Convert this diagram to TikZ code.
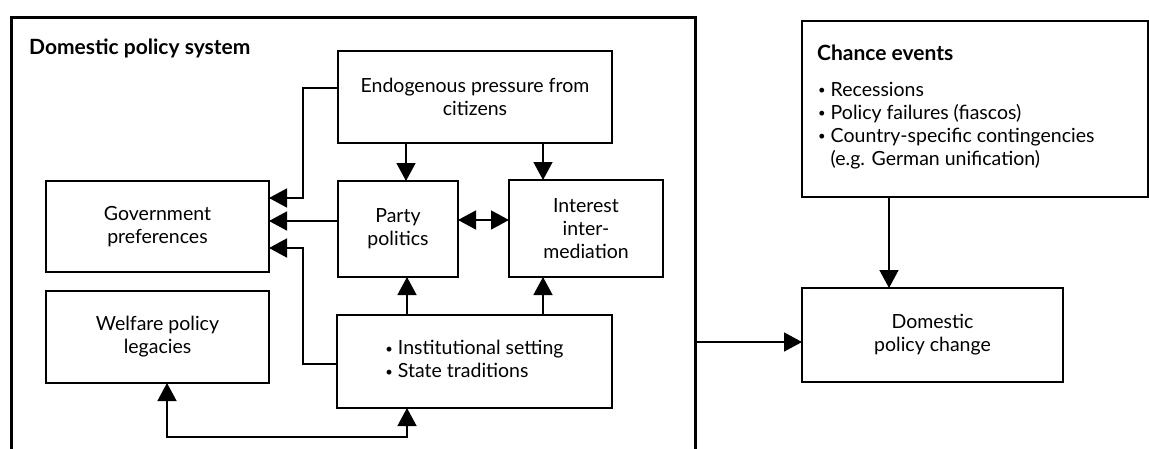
\documentclass[tikz,border=0pt]{standalone}
\usepackage{fontspec}
\setmainfont{Lato}
\usepackage{tikz}
\usetikzlibrary{arrows.meta,positioning}
\newcommand{\polfont}{\fontsize{19.5}{23}\selectfont}
\newcommand{\headfont}{\fontsize{21}{24}\selectfont\bfseries}
\newcommand{\polbullet}{\raisebox{1.5pt}{\fontsize{13}{13}\selectfont •}}
\tikzstyle{pol_box} = [rectangle, draw=black, line width=1.5pt, inner sep=0pt, outer sep=0pt, align=center, font=\polfont]
\tikzstyle{pol_frame} = [rectangle, draw=black, line width=3pt, inner sep=0pt, outer sep=0pt]
\tikzstyle{pol_head} = [inner sep=0pt, anchor=west, font=\headfont]
\tikzstyle{pol_arr} = [-{Triangle[length=18pt,width=19pt]}, line width=1.5pt]
\tikzstyle{pol_dbl} = [{Triangle[length=18pt,width=19pt]}-{Triangle[length=18pt,width=19pt]}, line width=1.5pt]

\begin{document}
\begin{tikzpicture}[x=1pt,y=-1pt]
\useasboundingbox (0,0) rectangle (1149,448);
\clip (0,0) rectangle (1149,448);
% the domestic policy system
\node [pol_frame, minimum width=684pt, minimum height=460pt] (system) at (353,247) {};
\node [pol_head] (systitle) at (29,48) {Domestic policy system};
\node [pol_box, minimum width=274pt, minimum height=92pt] (endo) at (475,97) {Endogenous pressure from\\citizens};
\node [pol_box, minimum width=223pt, minimum height=91pt] (gov) at (157.5,226.5) {Government\\preferences};
\node [pol_box, minimum width=120pt, minimum height=96pt] (party) at (398,229) {Party\\politics};
\node [pol_box, minimum width=154pt, minimum height=97pt] (interest) at (586,228.5) {Interest\\inter-\\mediation};
\node [pol_box, minimum width=223pt, minimum height=92pt] (welfare) at (157.5,337) {Welfare policy\\legacies};
\node [pol_box, minimum width=275pt, minimum height=93pt] (inst) at (474.5,361.5)
	{\begin{tabular}{@{}l@{\hspace{5pt}}l@{}}\polbullet&Institutional setting\\\polbullet&State traditions\end{tabular}};
% outside the system
\node [pol_box, minimum width=346pt, minimum height=176pt] (chance) at (975,109) {};
\node [pol_head] (chancetitle) at (817,53) {Chance events};
\node [inner sep=0pt, anchor=north west, font=\polfont] (chancelist) at (818,80)
	{\begin{tabular}{@{}l@{\hspace{5pt}}l@{}}\polbullet&Recessions\\\polbullet&Policy failures (fiascos)\\\polbullet&Country-specific contingencies\\&(e.g. German unification)\end{tabular}};
\node [pol_box, minimum width=261pt, minimum height=94pt] (change) at (932.5,335) {Domestic\\policy change};

% arrows into government preferences
\draw [pol_arr] (endo.west |- 0,88) -- ++(-35,0) |- (gov.east |- 0,198);
\draw [pol_arr] (party.west |- 0,221) -- (gov.east |- 0,221);
\draw [pol_arr] (inst.west |- 0,364) -- ++(-34,0) |- (gov.east |- 0,248);
% pressure, setting, intermediation
\draw [pol_arr] (endo.south -| 406,0) -- (party.north -| 406,0);
\draw [pol_arr] (endo.south -| 543,0) -- (interest.north -| 543,0);
\draw [pol_dbl] (party.east |- 0,220) -- (interest.west |- 0,220);
\draw [pol_arr] (inst.north -| 407,0) -- (party.south -| 407,0);
\draw [pol_arr] (inst.north -| 543,0) -- (interest.south -| 543,0);
\draw [pol_dbl] (welfare.south -| 167,0) -- ++(0,54) -| (inst.south -| 407,0);
% policy change
\draw [pol_arr] (system.east |- 0,342) -- (change.west |- 0,342);
\draw [pol_arr] (chance.south -| 889,0) -- (change.north -| 889,0);
\end{tikzpicture}
\end{document}
